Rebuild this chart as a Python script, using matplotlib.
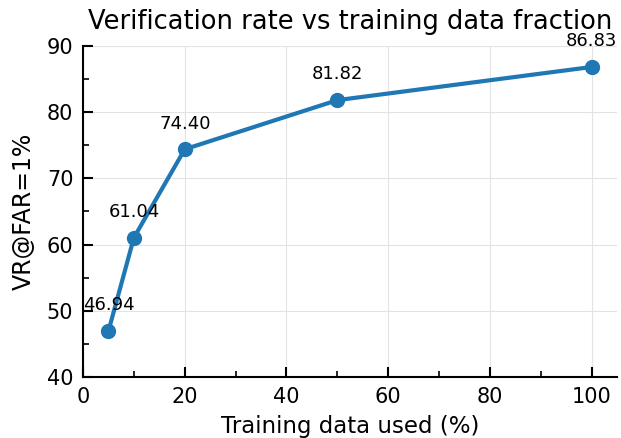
import matplotlib
matplotlib.use("Agg")
import matplotlib.pyplot as plt
from matplotlib.ticker import MultipleLocator

fractions = [5, 10, 20, 50, 100]
vr = [46.94, 61.04, 74.40, 81.82, 86.83]
labels = ["46.94", "61.04", "74.40", "81.82", "86.83"]

fig = plt.figure(figsize=(6.21, 4.38), dpi=100)
ax = fig.add_axes([0.1337, 0.1393, 0.86, 0.7557])
ax.plot(fractions, vr, color="#1f77b4", lw=3, marker="o", ms=10, zorder=3)
for x, y, t in zip(fractions, vr, labels):
    ax.annotate(t, (x, y), xytext=(0, 12), textcoords="offset points",
                ha="center", va="bottom", fontsize=13, annotation_clip=False)
ax.set_xlim(0, 105)
ax.set_ylim(40, 90)
ax.xaxis.set_major_locator(MultipleLocator(20))
ax.xaxis.set_minor_locator(MultipleLocator(10))
ax.yaxis.set_major_locator(MultipleLocator(10))
ax.yaxis.set_minor_locator(MultipleLocator(5))
ax.tick_params(which="major", direction="in", length=7, width=1.5, labelsize=15, pad=7)
ax.tick_params(which="minor", direction="in", length=4, width=1.2)
for s in ["top", "right"]:
    ax.spines[s].set_visible(False)
for s in ["left", "bottom"]:
    ax.spines[s].set_linewidth(1.5)
ax.grid(True, which="major", color="#e3e3e3", lw=0.8)
ax.set_axisbelow(True)
ax.set_xlabel("Training data used (%)", fontsize=16.5, labelpad=6)
ax.set_ylabel("VR@FAR=1%", fontsize=17, labelpad=8)
ax.set_title("Verification rate vs training data fraction", fontsize=18.5, pad=12)
fig.savefig("out.png", dpi=100)
